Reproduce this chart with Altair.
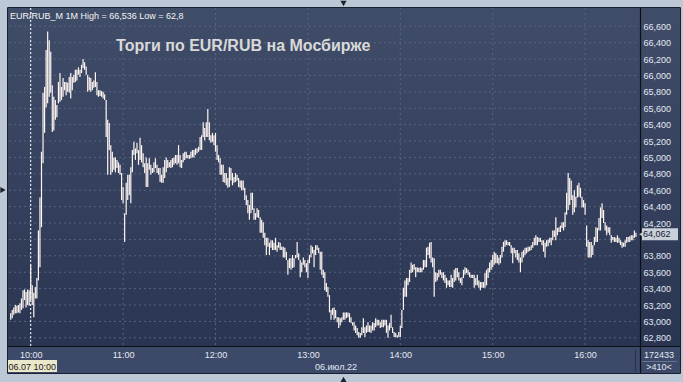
import altair as alt
import pandas as pd

# ---------------- data ----------------
START_MINUTE = 9 * 60 + 47          # first 1-minute bar at 09:47

high = [
    63.10, 63.14, 63.17, 63.20, 63.19, 63.20, 63.22, 63.28, 63.38, 63.39,
    63.36, 63.39, 63.38, 63.69, 63.44, 63.35, 63.42, 63.53, 64.11, 64.51,
    65.07, 65.79, 65.86, 66.31, 66.536, 66.43, 66.29, 65.88, 65.74, 65.70,
    65.64, 65.92, 66.03, 65.86, 65.97, 65.92, 65.92, 65.91, 65.98, 66.03,
    65.98, 66.01, 66.07, 66.07, 66.10, 66.07, 66.13, 66.20, 66.16, 66.11,
    66.01, 65.98, 65.97, 65.92, 65.94, 66.04, 65.92, 65.82, 65.82, 65.81,
    65.80, 65.77, 65.70, 65.46, 65.42, 65.15, 65.07, 65.00, 65.00, 64.97,
    64.94, 64.91, 64.81, 64.64, 64.32, 64.69, 64.79, 64.79, 64.88, 65.09,
    65.19, 65.11, 65.18, 65.09, 65.24, 65.15, 65.05, 64.93, 65.00, 64.93,
    64.99, 64.91, 64.87, 64.94, 64.99, 64.91, 64.87, 64.87, 64.79, 64.88,
    64.97, 65.00, 64.97, 64.94, 64.97, 64.99, 65.00, 65.03, 65.03, 65.15,
    65.03, 64.97, 65.05, 65.07, 65.07, 65.03, 65.03, 65.07, 65.09, 65.09,
    65.11, 65.11, 65.13, 65.25, 65.27, 65.43, 65.36, 65.43, 65.59, 65.43,
    65.27, 65.30, 65.27, 65.30, 65.15, 65.03, 64.99, 64.91, 64.91, 64.81,
    64.81, 64.75, 64.88, 64.87, 64.81, 64.76, 64.81, 64.79, 64.75, 64.72,
    64.72, 64.72, 64.63, 64.54, 64.48, 64.42, 64.57, 64.57, 64.38, 64.32,
    64.38, 64.36, 64.27, 64.24, 64.21, 64.08, 64.02, 64.02, 63.96, 63.99,
    63.99, 63.96, 64.02, 63.93, 63.97, 63.96, 63.91, 63.91, 63.90, 63.85,
    63.75, 63.77, 63.77, 63.81, 63.77, 63.81, 63.97, 63.83, 63.75, 63.72,
    63.78, 63.75, 63.71, 63.75, 63.81, 63.93, 63.91, 63.87, 63.93, 63.93,
    63.90, 63.85, 63.85, 63.63, 63.60, 63.47, 63.42, 63.32, 63.14, 63.16,
    63.17, 63.14, 63.05, 63.05, 63.04, 63.05, 63.11, 63.11, 63.11, 63.11,
    63.10, 63.05, 62.99, 62.99, 62.95, 62.92, 62.87, 62.86, 62.93, 63.04,
    62.93, 62.95, 62.99, 62.95, 62.95, 62.99, 62.98, 63.04, 63.02, 63.02,
    62.99, 63.02, 63.02, 63.02, 63.02, 62.95, 62.98, 63.08, 62.93, 62.87,
    62.86, 62.83, 62.87, 62.95, 63.14, 63.41, 63.50, 63.53, 63.53, 63.63,
    63.72, 63.69, 63.70, 63.66, 63.66, 63.65, 63.66, 63.65, 63.75, 63.75,
    63.90, 63.91, 63.96, 63.97, 63.78, 63.77, 63.60, 63.59, 63.63, 63.63,
    63.60, 63.60, 63.57, 63.53, 63.50, 63.50, 63.57, 63.53, 63.63, 63.65,
    63.65, 63.60, 63.53, 63.54, 63.63, 63.66, 63.65, 63.63, 63.60, 63.57,
    63.57, 63.57, 63.53, 63.57, 63.50, 63.48, 63.48, 63.48, 63.59, 63.63,
    63.65, 63.72, 63.75, 63.81, 63.85, 63.83, 63.81, 63.78, 63.81, 63.91,
    63.97, 63.99, 63.99, 63.97, 63.97, 63.93, 63.90, 63.90, 63.87, 63.87,
    63.83, 63.78, 63.85, 63.87, 63.90, 63.90, 63.91, 63.91, 63.93, 63.97,
    64.02, 64.05, 64.03, 64.02, 64.02, 63.99, 63.99, 63.96, 63.99, 64.00,
    64.02, 64.02, 64.11, 64.11, 64.27, 64.14, 64.15, 64.17, 64.21, 64.21,
    64.33, 64.57, 64.81, 64.75, 64.72, 64.54, 64.60, 64.52, 64.66, 64.69,
    64.63, 64.52, 64.48, 64.44, 64.17, 63.99, 63.97, 63.97, 63.93, 64.03,
    64.15, 64.14, 64.26, 64.39, 64.44, 64.36, 64.21, 64.17, 64.15, 64.15,
    64.05, 64.03, 64.03, 64.02, 64.05, 64.02, 63.99, 63.97, 63.96, 63.99,
    64.03, 64.03, 64.04, 64.05, 64.05, 64.11, 64.08,
]

low = [
    63.02, 63.04, 63.08, 63.10, 63.10, 63.11, 63.10, 63.14, 63.16, 63.26,
    63.17, 63.20, 63.19, 63.26, 63.20, 63.05, 63.28, 63.28, 63.50, 63.66,
    64.15, 64.93, 65.30, 65.61, 65.66, 65.74, 65.79, 65.31, 65.33, 65.46,
    65.49, 65.66, 65.68, 65.70, 65.74, 65.82, 65.76, 65.80, 65.79, 65.72,
    65.82, 65.91, 65.92, 65.94, 66.01, 65.98, 66.03, 66.09, 66.07, 66.01,
    65.80, 65.82, 65.80, 65.82, 65.85, 65.86, 65.76, 65.74, 65.75, 65.74,
    65.72, 65.70, 65.25, 64.79, 65.09, 64.79, 64.82, 64.85, 64.82, 64.87,
    64.81, 64.79, 64.48, 64.44, 63.97, 64.30, 64.48, 64.54, 64.44, 64.82,
    65.03, 64.97, 65.05, 64.91, 64.97, 64.94, 64.88, 64.81, 64.64, 64.64,
    64.85, 64.79, 64.81, 64.82, 64.87, 64.81, 64.79, 64.70, 64.69, 64.69,
    64.75, 64.82, 64.87, 64.88, 64.87, 64.88, 64.91, 64.93, 64.91, 64.93,
    64.88, 64.87, 64.94, 64.97, 64.99, 64.99, 64.98, 64.99, 65.00, 65.00,
    65.03, 65.05, 65.07, 65.09, 65.09, 65.25, 65.21, 65.25, 65.25, 65.21,
    65.18, 65.19, 65.15, 65.07, 64.97, 64.94, 64.79, 64.79, 64.70, 64.69,
    64.66, 64.63, 64.64, 64.72, 64.66, 64.69, 64.70, 64.72, 64.64, 64.63,
    64.60, 64.60, 64.48, 64.42, 64.32, 64.24, 64.32, 64.36, 64.24, 64.24,
    64.27, 64.26, 64.08, 64.08, 64.02, 63.93, 63.81, 63.91, 63.81, 63.90,
    63.87, 63.87, 63.87, 63.85, 63.90, 63.87, 63.87, 63.78, 63.78, 63.75,
    63.57, 63.65, 63.63, 63.65, 63.66, 63.77, 63.78, 63.75, 63.54, 63.60,
    63.69, 63.66, 63.60, 63.53, 63.71, 63.78, 63.83, 63.66, 63.81, 63.87,
    63.83, 63.63, 63.57, 63.53, 63.38, 63.36, 63.30, 63.11, 63.02, 63.08,
    63.02, 63.04, 62.99, 62.92, 62.95, 62.99, 63.02, 63.02, 63.04, 63.05,
    62.99, 62.98, 62.95, 62.89, 62.86, 62.83, 62.80, 62.80, 62.83, 62.86,
    62.81, 62.86, 62.87, 62.87, 62.86, 62.89, 62.89, 62.93, 62.95, 62.95,
    62.92, 62.93, 62.93, 62.95, 62.86, 62.80, 62.89, 62.92, 62.86, 62.81,
    62.81, 62.80, 62.81, 62.81, 62.92, 63.14, 63.30, 63.30, 63.44, 63.48,
    63.59, 63.60, 63.63, 63.54, 63.60, 63.60, 63.60, 63.60, 63.63, 63.66,
    63.66, 63.81, 63.77, 63.72, 63.66, 63.30, 63.48, 63.50, 63.54, 63.57,
    63.53, 63.50, 63.47, 63.41, 63.44, 63.42, 63.42, 63.41, 63.48, 63.50,
    63.54, 63.50, 63.47, 63.44, 63.53, 63.57, 63.59, 63.57, 63.54, 63.53,
    63.53, 63.41, 63.44, 63.44, 63.41, 63.38, 63.41, 63.41, 63.41, 63.44,
    63.53, 63.60, 63.63, 63.66, 63.69, 63.71, 63.71, 63.69, 63.71, 63.78,
    63.85, 63.91, 63.93, 63.93, 63.92, 63.83, 63.71, 63.83, 63.78, 63.75,
    63.72, 63.60, 63.72, 63.78, 63.81, 63.83, 63.85, 63.86, 63.87, 63.90,
    63.93, 63.93, 63.93, 63.97, 63.97, 63.93, 63.85, 63.78, 63.91, 63.92,
    63.96, 63.93, 63.99, 64.03, 63.99, 64.05, 64.09, 64.09, 64.14, 64.11,
    64.15, 64.30, 64.36, 64.42, 64.48, 64.30, 64.33, 64.39, 64.51, 64.52,
    64.51, 64.39, 64.39, 64.30, 63.91, 63.78, 63.78, 63.78, 63.81, 63.93,
    63.97, 63.97, 64.11, 64.11, 64.26, 64.20, 64.11, 64.05, 64.08, 64.05,
    63.96, 63.99, 63.97, 63.97, 63.96, 63.96, 63.93, 63.90, 63.91, 63.91,
    63.96, 63.97, 63.97, 63.99, 63.99, 64.02, 64.03,
]

price_ticks = [62.8, 63.0, 63.2, 63.4, 63.6, 63.8, 64.0, 64.2, 64.4, 64.6,
               64.8, 65.0, 65.2, 65.4, 65.6, 65.8, 66.0, 66.2, 66.4, 66.6]
hour_ticks = [600, 660, 720, 780, 840, 900, 960]          # 10:00 … 16:00
cursor_minute = [600]
last_price = [64.062]

title_text = "Торги по EUR/RUB на Мосбирже"
symbol_text = "EUR/RUB_M 1M"
cursor_text = "06.07 10:00"
date_text = "06.июл.22"
volume_text = "172433"
bars_text = ">410<"

# ---------------- build ----------------
n = min(len(high), len(low))
bars = pd.DataFrame({
    "t": [START_MINUTE + k for k in range(n)],
    "high": high[:n],
    "low": low[:n],
})


def ru(v):
    return ("%g" % v).replace(".", ",")


header = f"{symbol_text} High = {ru(max(high))} Low = {ru(min(low))}"

W, H = 630, 338
FONT = "Liberation Sans"
SMALL = 9
FRAME = "#bdc8d7"
LABEL = "#e3e9f3"

xs = alt.Scale(domain=[585.9, 995.0], nice=False, zero=False)
ys = alt.Scale(domain=[62.70, 66.823], nice=False, zero=False)

x_axis = alt.Axis(
    values=hour_ticks, labelExpr="floor(datum.value / 60) + ':00'",
    grid=False, ticks=False, domain=False, title=None, zindex=2,
    labelColor=LABEL, labelFont=FONT, labelFontSize=SMALL, labelPadding=4)
# the price tag of the last bar covers the axis label that lies under it
y_axis = alt.Axis(
    orient="right", values=price_ticks,
    labelExpr=(f"abs(datum.value - {last_price[0]}) < 0.1 ? '' : "
               "replace(format(datum.value, '.3f'), '.', ',')"),
    grid=False, ticks=False, domain=False, title=None, zindex=2,
    labelColor=LABEL, labelFont=FONT, labelFontSize=SMALL, labelPadding=4)

one = pd.DataFrame({"k": [0]})

bg = alt.Chart(one).mark_rect(
    fill=alt.LinearGradient(
        gradient="linear",
        stops=[alt.GradientStop(color="#404d69", offset=0),
               alt.GradientStop(color="#2a3552", offset=1)],
        x1=0, x2=0, y1=0, y2=1),
).encode(x=alt.value(-1), x2=alt.value(W + 41), y=alt.value(0), y2=alt.value(H))

time_panel = alt.Chart(one).mark_rect(fill="#3c4968").encode(
    x=alt.value(-1), x2=alt.value(W + 41), y=alt.value(H), y2=alt.value(H + 27))

hgrid = alt.Chart(pd.DataFrame({"v": price_ticks})).mark_rule(
    color="#56647f", strokeDash=[2, 3], strokeWidth=1
).encode(y=alt.Y("v:Q", scale=ys, axis=y_axis), x=alt.value(0), x2=alt.value(W))

vgrid = alt.Chart(pd.DataFrame({"t": hour_ticks})).mark_rule(
    color="#56647f", strokeDash=[2, 3], strokeWidth=1
).encode(x=alt.X("t:Q", scale=xs, axis=x_axis), y=alt.value(0), y2=alt.value(H))

cursor = alt.Chart(pd.DataFrame({"t": cursor_minute})).mark_rule(
    color="#ffffff", strokeDash=[2, 2], strokeWidth=1
).encode(x=alt.X("t:Q", scale=xs, axis=x_axis), y=alt.value(0), y2=alt.value(H))

ohlc = alt.Chart(bars).mark_rule(color="#fff6f2", strokeWidth=1.2).encode(
    x=alt.X("t:Q", scale=xs, axis=x_axis),
    y=alt.Y("high:Q", scale=ys, axis=y_axis),
    y2="low:Q",
)

black_v = alt.Chart(one).mark_rule(color="#0c0f16", strokeWidth=1.2).encode(
    x=alt.value(W + 1.5), y=alt.value(0), y2=alt.value(H + 27))
black_h = alt.Chart(one).mark_rule(color="#0c0f16", strokeWidth=1.2).encode(
    x=alt.value(-1), x2=alt.value(W + 41), y=alt.value(H + 0.5))
sep_v = alt.Chart(one).mark_rule(color="#27304a", strokeWidth=1).encode(
    x=alt.value(W - 3.5), y=alt.value(H + 4), y2=alt.value(H + 26))
sep_h = alt.Chart(one).mark_rule(color="#66748f", strokeWidth=1).encode(
    x=alt.value(W + 3), x2=alt.value(W + 38), y=alt.value(H + 15.5))

border = alt.Chart(one).mark_rect(filled=False, stroke="#1a2030", strokeWidth=1).encode(
    x=alt.value(-1.5), x2=alt.value(W + 41.5), y=alt.value(-0.5), y2=alt.value(H + 27.5))

header_txt = alt.Chart(pd.DataFrame({"s": [header]})).mark_text(
    align="left", baseline="alphabetic", font=FONT, fontSize=SMALL, color="#f4f4f4"
).encode(text="s:N", x=alt.value(1), y=alt.value(10.5))

title_txt = alt.Chart(pd.DataFrame({"s": [title_text]})).mark_text(
    align="left", baseline="alphabetic", font=FONT, fontSize=16, fontWeight="bold",
    color="#d9d9d9"
).encode(text="s:N", x=alt.value(107), y=alt.value(43))

date_txt = alt.Chart(pd.DataFrame({"s": [date_text]})).mark_text(
    align="center", baseline="middle", font=FONT, fontSize=SMALL, color=LABEL
).encode(text="s:N", x=alt.value(327), y=alt.value(H + 21))

cursor_box = alt.Chart(one).mark_rect(fill="#ebe7cb").encode(
    x=alt.value(-1), x2=alt.value(48), y=alt.value(H + 14), y2=alt.value(H + 26))
cursor_txt = alt.Chart(pd.DataFrame({"s": [cursor_text]})).mark_text(
    align="left", baseline="middle", font=FONT, fontSize=SMALL, color="#1a1a1a"
).encode(text="s:N", x=alt.value(-0.5), y=alt.value(H + 20.5))

vol_txt = alt.Chart(pd.DataFrame({"s": [volume_text]})).mark_text(
    align="center", baseline="middle", font=FONT, fontSize=SMALL, color=LABEL
).encode(text="s:N", x=alt.value(W + 20), y=alt.value(H + 9))
nbar_txt = alt.Chart(pd.DataFrame({"s": [bars_text]})).mark_text(
    align="center", baseline="middle", font=FONT, fontSize=SMALL, color=LABEL
).encode(text="s:N", x=alt.value(W + 20), y=alt.value(H + 21))

price_df = pd.DataFrame({"p": last_price,
                         "s": [("%.3f" % v).replace(".", ",") for v in last_price]})
tag_bar = alt.Chart(price_df).mark_rule(color="#c9d0d8", strokeWidth=12, strokeCap="butt").encode(
    y=alt.Y("p:Q", scale=ys, axis=y_axis), x=alt.value(W + 3), x2=alt.value(W + 39))
tag_arrow = alt.Chart(price_df).mark_point(
    shape="triangle-left", filled=True, color="#c9d0d8", size=45, opacity=1
).encode(y=alt.Y("p:Q", scale=ys, axis=y_axis), x=alt.value(W + 3))
tag_txt = alt.Chart(price_df).mark_text(
    align="left", baseline="middle", font=FONT, fontSize=SMALL, color="#18202e"
).encode(text="s:N", y=alt.Y("p:Q", scale=ys, axis=y_axis), x=alt.value(W + 4))

arrows = pd.DataFrame({"shape": ["triangle-right", "triangle-down", "triangle-up"],
                       "px": [-6, 334.5, 334.5], "py": [182, -4.5, 371.5]})
marker_layers = [
    alt.Chart(arrows.iloc[[k]]).mark_point(
        shape=arrows["shape"][k], filled=True, color="#1c2230", size=38, opacity=1
    ).encode(x=alt.value(float(arrows["px"][k])), y=alt.value(float(arrows["py"][k])))
    for k in range(len(arrows))
]

chart = alt.layer(
    bg, time_panel, hgrid, vgrid, cursor, ohlc,
    black_v, black_h, sep_v, sep_h, border,
    header_txt, title_txt, date_txt, cursor_box, cursor_txt,
    vol_txt, nbar_txt, tag_bar, tag_arrow, tag_txt, *marker_layers,
).properties(
    width=W, height=H, autosize="none",
    padding={"left": 9, "top": 8, "right": 44, "bottom": 36},
    background=FRAME,
).configure_view(stroke=None)

chart.save("out.html", embed_options={"renderer": "svg", "actions": False})
